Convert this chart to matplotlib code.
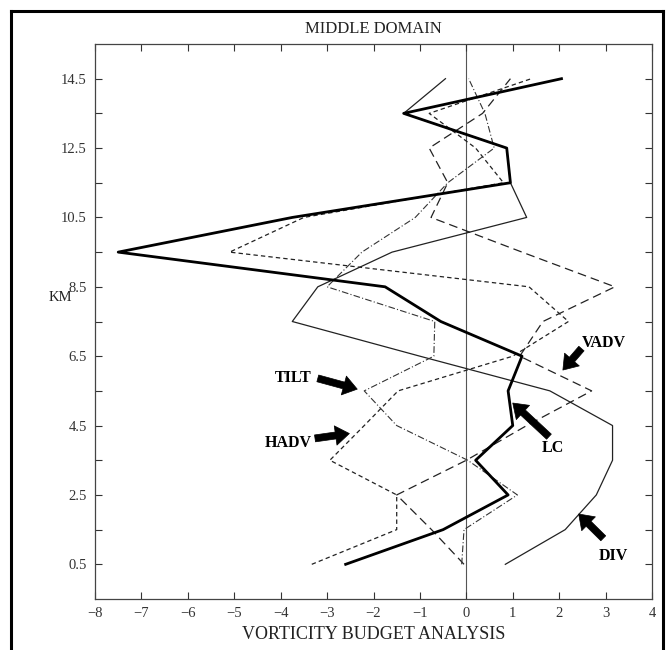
import numpy as np
import matplotlib
matplotlib.use("Agg")
import matplotlib.pyplot as plt
from matplotlib.lines import Line2D

plt.rcParams['font.family'] = ['Liberation Serif', 'DejaVu Serif']

# heights (km) and budget terms at each level
km = [0.5, 1.5, 2.5, 3.5, 4.5, 5.5, 6.5, 7.5, 8.5, 9.5, 10.5, 11.5, 12.5, 13.5, 14.5]
lc = [-2.6, -0.5, 0.9, 0.2, 1.0, 0.9, 1.2, -0.55, -1.75, -7.5, -3.75, 0.95, 0.87, -1.35, 2.05]
div = [0.84, 2.13, 2.8, 3.15, 3.15, 1.8, -1.0, -3.75, -3.2, -1.6, 1.3, 0.95, 0.87, -1.35, -0.45]
vadv = [-0.05, -0.75, -1.5, 0.0, 1.3, 2.7, 1.15, 1.65, 3.2, 1.2, -0.76, -0.4, -0.8, 0.35, 0.95]
hadv = [-3.33, -1.5, -1.5, -2.94, -2.2, -1.47, 1.0, 2.2, 1.35, -5.1, -3.5, 0.8, 0.2, -0.8, 1.4]
tilt = [-0.1, -0.05, 1.1, 0.03, -1.5, -2.2, -0.7, -0.68, -3.0, -2.25, -1.1, -0.4, 0.6, 0.4, 0.05]

xticks = list(range(-8, 5))
yticks_major = [0.5, 2.5, 4.5, 6.5, 8.5, 10.5, 12.5, 14.5]
yticks_minor = [1.5, 3.5, 5.5, 7.5, 9.5, 11.5, 13.5]

fig = plt.figure(figsize=(6.71, 6.5), dpi=100)
ax = fig.add_axes([95 / 671, 1 - 599 / 650, 557 / 671, 555 / 650])

ax.axvline(0, color='#555555', lw=0.8, zorder=1)

ax.plot(div, km, color='#222222', lw=0.9)
ax.plot(vadv, km, color='#222222', lw=0.9, dashes=(7, 4))
ax.plot(hadv, km, color='#222222', lw=0.9, dashes=(3.5, 2.5))
ax.plot(tilt, km, color='#333333', lw=0.8, dashes=(6, 2, 1, 2))
ax.plot(lc, km, color='black', lw=2.0, zorder=5)

ax.set_xlim(-8, 4)
ax.set_ylim(-0.5, 15.5)
ax.set_xticks(xticks)
ax.set_xticklabels([str(t).replace('-', '\u2212') for t in xticks])
ax.set_yticks(yticks_major)
ax.set_yticks(yticks_minor, minor=True)
ax.set_yticklabels([str(t) for t in yticks_major])
ax.tick_params(which='both', direction='in', top=True, right=True,
               length=5, width=0.8, labelsize=10.5, colors='#333333', pad=6)
for s in ax.spines.values():
    s.set_linewidth(0.9)
    s.set_color('#444444')

ax.set_title('MIDDLE DOMAIN', fontsize=12, pad=8, color='#222222')
ax.set_xlabel('VORTICITY BUDGET ANALYSIS', fontsize=13, labelpad=4, color='#222222')
ax.text(-8.75, 8.2, 'KM', fontsize=10.5, ha='center', va='center', color='#222222')

# block arrows pointing at each curve
arrow = dict(arrowstyle='simple,head_width=1.4,head_length=1.0,tail_width=0.5',
             fc='black', ec='black', lw=0.5, shrinkA=0, shrinkB=0)
notes = [
    ('VADV', (2.97, 6.89), (2.48, 6.72), (2.08, 6.1)),
    ('TILT', (-3.74, 5.87), (-3.2, 5.86), (-2.35, 5.55)),
    ('HADV', (-3.84, 4.0), (-3.26, 4.13), (-2.52, 4.27)),
    ('LC', (1.87, 3.85), (1.78, 4.18), (1.0, 5.15)),
    ('DIV', (3.16, 0.74), (2.95, 1.25), (2.42, 1.95)),
]
for name, pos, tail, head in notes:
    ax.text(pos[0], pos[1], name, fontsize=11.5, fontweight='bold',
            ha='center', va='center', zorder=6)
    ax.annotate('', xy=head, xytext=tail, arrowprops=arrow, zorder=6)

# outer border
for xs, ys in [([11 / 671, 11 / 671], [0, 1 - 11 / 650]),
               ([11 / 671, 663 / 671], [1 - 11 / 650, 1 - 11 / 650]),
               ([663 / 671, 663 / 671], [1 - 11 / 650, 0])]:
    fig.add_artist(Line2D(xs, ys, color='black', lw=2.2))

fig.savefig('out.png', dpi=100)
